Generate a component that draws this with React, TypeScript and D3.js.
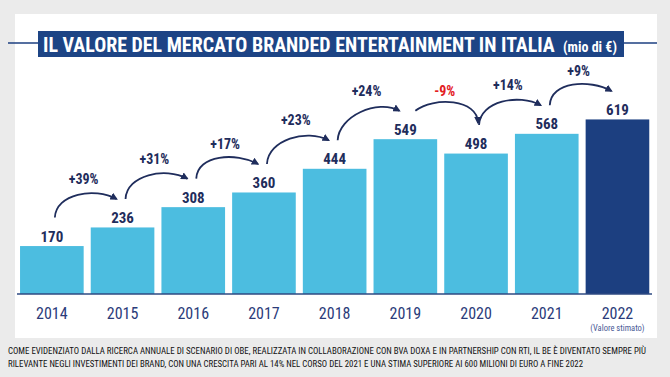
import React, { useLayoutEffect, useRef, useState } from "react";
import * as d3 from "d3";

const years = ["2014", "2015", "2016", "2017", "2018", "2019", "2020", "2021", "2022"];
const values = [170, 236, 308, 360, 444, 549, 498, 568, 619];
const growth = ["+39%", "+31%", "+17%", "+23%", "+24%", "-9%", "+14%", "+9%"];
const estimatedYear = "2022";
const titleMain = "IL VALORE DEL MERCATO BRANDED ENTERTAINMENT IN ITALIA";
const titleUnit = "(mio di €)";
const footer = [
  "COME EVIDENZIATO DALLA RICERCA ANNUALE DI SCENARIO DI OBE, REALIZZATA IN COLLABORAZIONE CON BVA DOXA E IN PARTNERSHIP CON RTI, IL BE È DIVENTATO SEMPRE PIÙ",
  "RILEVANTE NEGLI INVESTIMENTI DEI BRAND, CON UNA CRESCITA PARI AL 14% NEL CORSO DEL 2021 E UNA STIMA SUPERIORE AI 600 MILIONI DI EURO A FINE 2022",
];

const W = 670;
const H = 377;
const NARROW = "'Liberation Sans Narrow', 'Arial Narrow', 'Roboto Condensed', sans-serif";
const NAVY = "#1f2d5c";
const LIGHT = "#4cbde0";
const DARK = "#1c3f80";

export default function App() {
  const mainRef = useRef<SVGTextElement>(null);
  const unitRef = useRef<SVGTextElement>(null);
  const [mainSize, setMainSize] = useState(22);
  const [unitSize, setUnitSize] = useState(14);

  useLayoutEffect(() => {
    if (mainRef.current) {
      const l = mainRef.current.getComputedTextLength();
      if (l > 0) setMainSize((s) => Math.min(24, (s * 512) / l));
    }
    if (unitRef.current) {
      const l = unitRef.current.getComputedTextLength();
      if (l > 0) setUnitSize((s) => Math.min(15, (s * 54) / l));
    }
  }, []);

  const x = d3.scaleBand<string>().domain(years).range([16.5, 652.8]).paddingInner(0.1).paddingOuter(0.05);
  const y = d3.scaleLinear().domain([0, 700]).range([294, 96.6]);
  const cx = (yr: string) => (x(yr) as number) + x.bandwidth() / 2;
  const labelMid = (v: number) => y(v) - 9.5;

  const arrows = growth.map((g, i) => {
    const a = years[i];
    const b = years[i + 1];
    const down = values[i + 1] < values[i];
    const sx = cx(a) + (down ? 10 : 3);
    const sy = labelMid(values[i]) - 19;
    const ex = cx(b) + (down ? 2 : -6);
    const ey = labelMid(values[i + 1]) - 19;
    const top = Math.min(sy, ey);
    let path: string;
    if (down) {
      path = `M${sx},${sy} C${sx + 18},${top - 14} ${ex},${top - 12} ${ex},${ey - 2}`;
    } else {
      path = `M${sx},${sy} C${sx + 1},${sy - 24} ${ex - 22},${ey - 12} ${ex},${ey}`;
    }
    return { g, path, lx: (sx + ex) / 2 - 2, ly: top - 20, down };
  });

  return (
    <svg width={W} height={H} style={{ position: "absolute", left: 0, top: 0 }}>
      <defs>
        <marker id="ah" viewBox="0 0 10 10" refX="8" refY="5" markerWidth="4.2" markerHeight="4.2" orient="auto" markerUnits="strokeWidth">
          <path d="M0,0 L10,5 L0,10 z" fill={NAVY} />
        </marker>
      </defs>
      <rect x={0} y={0} width={W} height={H} fill="#ebebeb" />
      <rect x={15} y={14} width={642} height={324} fill="#ffffff" />
      <line x1={8} x2={657} y1={43} y2={43} stroke={DARK} strokeWidth={1.5} />
      <rect x={38} y={31} width={586} height={26} fill="#1d4485" />
      <text ref={mainRef} x={43} y={52} fill="#fff" fontFamily={NARROW} fontWeight="bold" fontSize={mainSize}>
        {titleMain}
      </text>
      <text ref={unitRef} x={563} y={52} fill="#fff" fontFamily={NARROW} fontWeight="bold" fontSize={unitSize}>
        {titleUnit}
      </text>

      {years.map((yr, i) => (
        <rect key={yr} x={x(yr)} y={y(values[i])} width={x.bandwidth()} height={y(0) - y(values[i])} fill={yr === estimatedYear ? DARK : LIGHT} />
      ))}
      <line x1={17} x2={652} y1={294} y2={294} stroke="#2e4a82" strokeWidth={1.5} />

      {years.map((yr, i) => (
        <text key={"v" + yr} x={cx(yr)} y={y(values[i]) - 4.5} textAnchor="middle" fill={NAVY} fontFamily={NARROW} fontWeight="bold" fontSize={15}>
          {values[i]}
        </text>
      ))}

      {years.map((yr) => (
        <text key={"y" + yr} x={cx(yr)} y={319} textAnchor="middle" fill="#2b3b7a" fontFamily={NARROW} fontSize={16}>
          {yr}
        </text>
      ))}
      <text x={cx(estimatedYear)} y={331} textAnchor="middle" fill="#4a5a96" fontFamily={NARROW} fontSize={8.5}>
        (Valore stimato)
      </text>

      {arrows.map((a, i) => (
        <g key={"a" + i}>
          <path d={a.path} fill="none" stroke={NAVY} strokeWidth={1.8} markerEnd="url(#ah)" />
          <text x={a.lx} y={a.ly + 5} textAnchor="middle" fill={a.down ? "#e3201f" : NAVY} fontFamily={NARROW} fontWeight="bold" fontSize={14}>
            {a.g}
          </text>
        </g>
      ))}

      <text x={8} y={354} fill="#111" fontFamily={NARROW} fontSize={8.3} textLength={638} lengthAdjust="spacingAndGlyphs">
        {footer[0]}
      </text>
      <text x={8} y={367} fill="#111" fontFamily={NARROW} fontSize={8.3} textLength={575} lengthAdjust="spacingAndGlyphs">
        {footer[1]}
      </text>
    </svg>
  );
}
